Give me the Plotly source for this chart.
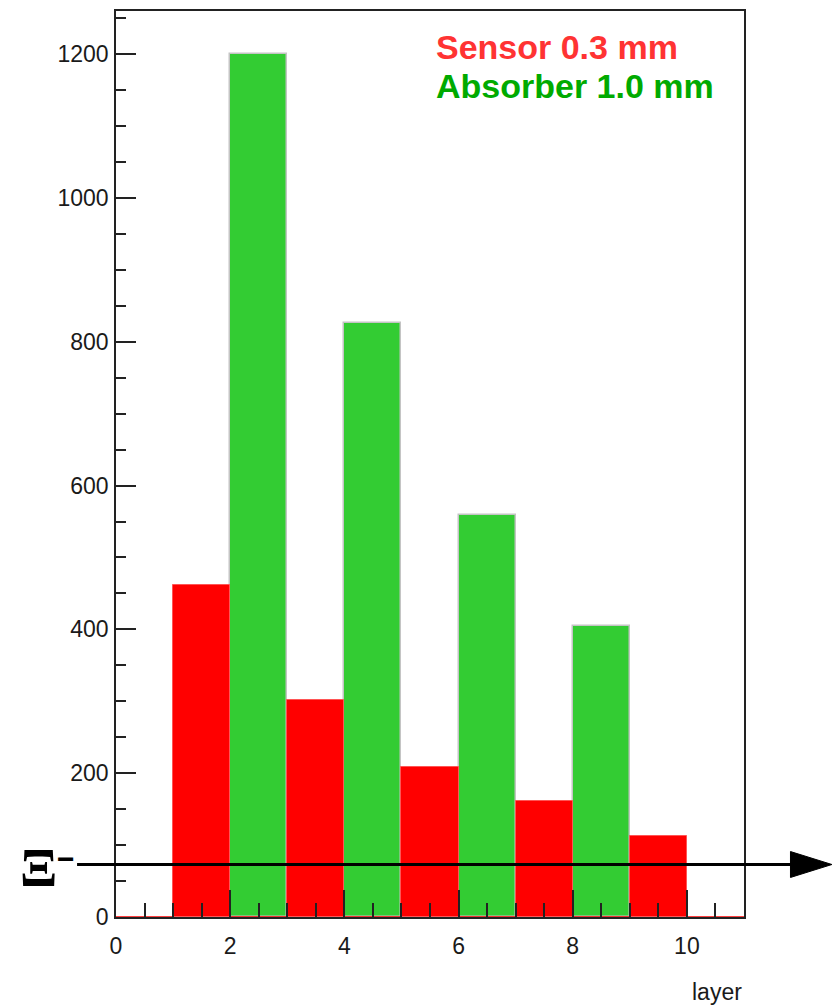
import plotly.graph_objects as go

# Energy deposited per layer, 1-unit-wide bins (lower bin edge listed)
sensor_layers = [1, 3, 5, 7, 9]
sensor_counts = [462, 302, 209, 162, 113]
absorber_layers = [2, 4, 6, 8]
absorber_counts = [1200, 826, 559, 405]

x_ticks = [0, 2, 4, 6, 8, 10]
y_ticks = [0, 200, 400, 600, 800, 1000, 1200]

X_RANGE = [0, 11]
Y_RANGE = [0, 1260]
ARROW_LEVEL = 73  # level marked by the horizontal arrow (data units)

RED = "#ff0000"
GREEN = "#33cc33"

fig = go.Figure()

fig.add_trace(go.Bar(
    x=absorber_layers, y=absorber_counts, width=1, offset=0,
    marker=dict(color=GREEN, line=dict(color="#c4c4c4", width=1.5)),
    showlegend=False, hoverinfo="x+y",
))
fig.add_trace(go.Bar(
    x=sensor_layers, y=sensor_counts, width=1, offset=0,
    marker=dict(color=RED, line=dict(color="#ff5555", width=1)),
    showlegend=False, hoverinfo="x+y",
))

# zero-level outline of the sensor histogram in the empty bins
empty_x, empty_y = [], []
for lo in range(X_RANGE[0], X_RANGE[1]):
    if lo not in sensor_layers:
        empty_x += [lo, lo + 1, None]
        empty_y += [0, 0, None]
fig.add_trace(go.Scatter(
    x=empty_x, y=empty_y, mode="lines", line=dict(color=RED, width=1.5),
    cliponaxis=False, showlegend=False, hoverinfo="skip",
))

tick_font = dict(family="Liberation Sans, Arial, sans-serif", size=23, color="#1a1a1a")

fig.update_layout(
    width=837, height=1007,
    margin=dict(l=116, r=93, t=9, b=90),
    paper_bgcolor="white", plot_bgcolor="white",
    barmode="overlay", bargap=0,
    xaxis=dict(
        range=X_RANGE, tickmode="array", tickvals=x_ticks,
        ticks="inside", ticklen=27, tickwidth=1.5, tickcolor="#222",
        minor=dict(dtick=0.5, tick0=0, ticks="inside", ticklen=14,
                   tickwidth=1.5, tickcolor="#222"),
        showline=True, linecolor="#222", linewidth=1.5, mirror=True,
        showgrid=False, zeroline=False, tickfont=tick_font,
        ticklabelstandoff=8,
    ),
    yaxis=dict(
        range=Y_RANGE, tickmode="array", tickvals=y_ticks,
        ticks="inside", ticklen=20, tickwidth=1.5, tickcolor="#222",
        minor=dict(dtick=50, tick0=0, ticks="inside", ticklen=10.5,
                   tickwidth=1.5, tickcolor="#222"),
        showline=True, linecolor="#222", linewidth=1.5, mirror=True,
        showgrid=False, zeroline=False, tickfont=tick_font,
        ticklabelstandoff=1,
    ),
)

# horizontal arrow across the plot at the marked level
arrow_y = (ARROW_LEVEL - Y_RANGE[0]) / (Y_RANGE[1] - Y_RANGE[0])
plot_w = 837 - 116 - 93
plot_h = 1007 - 9 - 90
x_start, x_base, x_tip = -0.062, 1.074, 1.140
head_half = 13 / plot_h
fig.add_shape(type="line", xref="paper", yref="paper",
              x0=x_start, x1=x_base + 0.005, y0=arrow_y, y1=arrow_y,
              line=dict(color="black", width=3.2))
fig.add_shape(type="path", xref="paper", yref="paper",
              path=f"M {x_base},{arrow_y + head_half} L {x_tip},{arrow_y} "
                   f"L {x_base},{arrow_y - head_half} Z",
              fillcolor="black", line=dict(color="black", width=1))

# particle label at the left end of the arrow
fig.add_annotation(text="<b>Ξ</b>", xref="paper", yref="paper",
                   x=-0.124, y=arrow_y - 0.003, xanchor="center", yanchor="middle",
                   showarrow=False,
                   font=dict(family="Liberation Serif, Times New Roman, serif",
                             size=55, color="black"))
fig.add_annotation(text="<b>−</b>", xref="paper", yref="paper",
                   x=-0.080, y=arrow_y + 0.007, xanchor="center", yanchor="middle",
                   showarrow=False,
                   font=dict(family="Liberation Sans, Arial, sans-serif",
                             size=30, color="black"))

# legend text
fig.add_annotation(text="<b>Sensor 0.3 mm</b>", xref="paper", yref="paper",
                   x=0.507, y=0.960, xanchor="left", yanchor="middle",
                   showarrow=False,
                   font=dict(family="Liberation Sans, Arial, sans-serif",
                             size=34, color="#ff3333"))
fig.add_annotation(text="<b>Absorber 1.0 mm</b>", xref="paper", yref="paper",
                   x=0.507, y=0.917, xanchor="left", yanchor="middle",
                   showarrow=False,
                   font=dict(family="Liberation Sans, Arial, sans-serif",
                             size=34, color="#00aa00"))

# x-axis title, right-aligned under the frame
fig.add_annotation(text="layer", xref="paper", yref="paper",
                   x=1.0, y=-0.083, xanchor="right", yanchor="middle",
                   showarrow=False, font=tick_font)

fig.write_html("out.html")
